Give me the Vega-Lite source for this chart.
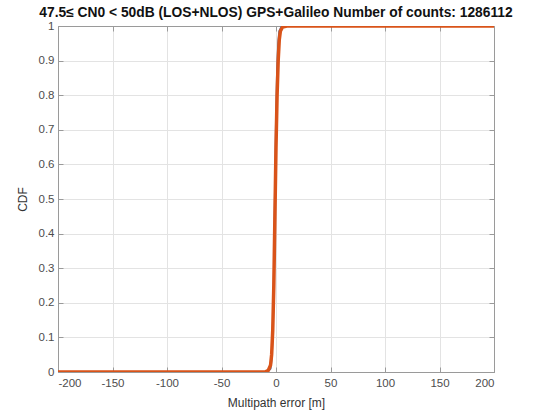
{
  "$schema": "https://vega.github.io/schema/vega-lite/v6.json",
  "width": 436,
  "height": 346,
  "autosize": {"type": "none"},
  "padding": {"left": 58, "top": 26, "right": 47, "bottom": 44},
  "background": "white",
  "config": {
    "font": "Liberation Sans",
    "view": {"stroke": "#9a9a9a", "strokeWidth": 1},
    "axis": {
      "labelFont": "Liberation Sans",
      "titleFont": "Liberation Sans",
      "labelFontSize": 11.5,
      "titleFontSize": 12,
      "labelColor": "#4d4d4d",
      "titleColor": "#333333",
      "titleFontWeight": "normal",
      "domainColor": "#9a9a9a",
      "tickColor": "#9a9a9a",
      "gridColor": "#e3e3e3",
      "tickSize": -5
    }
  },
  "title": {
    "text": "47.5≤ CN0 < 50dB (LOS+NLOS) GPS+Galileo Number of counts: 1286112",
    "font": "Liberation Sans",
    "fontSize": 13.8,
    "fontWeight": "bold",
    "color": "#111111",
    "offset": 0,
    "anchor": "middle"
  },
  "datasets": {
    "blue": [
      {"err": -200, "cdf": 0},
      {"err": -8, "cdf": 0},
      {"err": -5, "cdf": 0.01},
      {"err": -4, "cdf": 0.04},
      {"err": -3, "cdf": 0.11},
      {"err": -2, "cdf": 0.26},
      {"err": -1, "cdf": 0.5},
      {"err": 0, "cdf": 0.72},
      {"err": 1, "cdf": 0.87},
      {"err": 2, "cdf": 0.95},
      {"err": 3, "cdf": 0.985},
      {"err": 5, "cdf": 0.998},
      {"err": 8, "cdf": 1},
      {"err": 200, "cdf": 1}
    ],
    "orange": [
      {"err": -200, "cdf": 0},
      {"err": -10, "cdf": 0},
      {"err": -7, "cdf": 0.005},
      {"err": -5, "cdf": 0.02},
      {"err": -4, "cdf": 0.05},
      {"err": -3, "cdf": 0.12},
      {"err": -2, "cdf": 0.25},
      {"err": -1, "cdf": 0.45},
      {"err": 0, "cdf": 0.65},
      {"err": 1, "cdf": 0.8},
      {"err": 2, "cdf": 0.9},
      {"err": 3, "cdf": 0.96},
      {"err": 4, "cdf": 0.985},
      {"err": 6, "cdf": 0.997},
      {"err": 10, "cdf": 1},
      {"err": 200, "cdf": 1}
    ]
  },
  "layer": [
    {
      "data": {"name": "blue"},
      "mark": {"type": "line", "color": "#5a6fa0", "strokeWidth": 2, "clip": true},
      "encoding": {
        "x": {
          "field": "err", "type": "quantitative",
          "scale": {"domain": [-200, 200], "nice": false, "zero": false},
          "axis": {"orient": "bottom", "values": [-200, -150, -100, -50, 0, 50, 100, 150, 200], "labelExpr": "replace(datum.label, '−', '-')", "title": "Multipath error [m]", "labelPadding": 10, "titlePadding": 9, "grid": true}
        },
        "y": {
          "field": "cdf", "type": "quantitative",
          "scale": {"domain": [0, 1], "nice": false},
          "axis": {"orient": "left", "values": [0, 0.1, 0.2, 0.3, 0.4, 0.5, 0.6, 0.7, 0.8, 0.9, 1], "format": ".1~f", "title": "CDF", "labelPadding": 9, "titlePadding": 9, "grid": true}
        }
      }
    },
    {
      "data": {"name": "orange"},
      "mark": {"type": "line", "color": "#d95319", "strokeWidth": 3.5, "clip": true},
      "encoding": {
        "x": {
          "field": "err", "type": "quantitative",
          "axis": {"orient": "top", "values": [-200, -150, -100, -50, 0, 50, 100, 150, 200], "labels": false, "title": null, "grid": false}
        },
        "y": {
          "field": "cdf", "type": "quantitative",
          "axis": {"orient": "right", "values": [0, 0.1, 0.2, 0.3, 0.4, 0.5, 0.6, 0.7, 0.8, 0.9, 1], "labels": false, "title": null, "grid": false}
        }
      }
    }
  ],
  "resolve": {"axis": {"x": "independent", "y": "independent"}}
}
